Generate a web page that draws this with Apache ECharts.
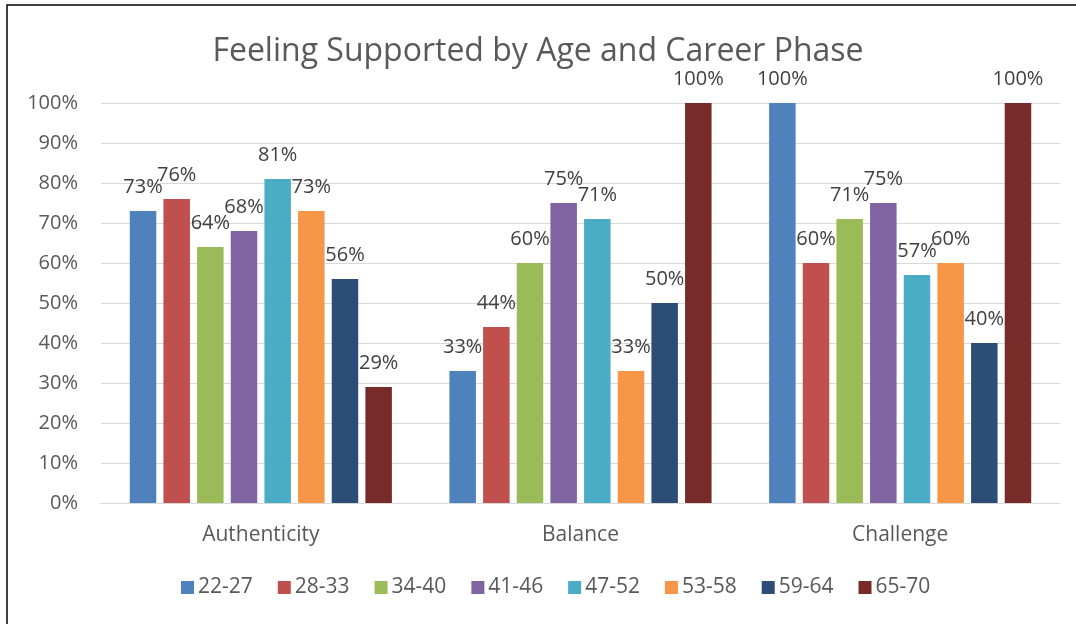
<!DOCTYPE html>
<html>
<head>
<meta charset="utf-8">
<script src="https://cdn.jsdelivr.net/npm/echarts@6/dist/echarts.min.js"></script>
<style>
  html, body { margin: 0; padding: 0; background: #fff; }
  #chart { width: 1076px; height: 624px; }
</style>
</head>
<body>
<div id="chart"></div>
<script>
// categories and age groups
const categories = ["Authenticity", "Balance", "Challenge"]
const ageGroups = ["22-27", "28-33", "34-40", "41-46", "47-52", "53-58", "59-64", "65-70"]

// percentage supported, one array per age group (Authenticity, Balance, Challenge)
const age22to27 = [73, 33, 100]
const age28to33 = [76, 44, 60]
const age34to40 = [64, 60, 71]
const age41to46 = [68, 75, 75]
const age47to52 = [81, 71, 57]
const age53to58 = [73, 33, 60]
const age59to64 = [56, 50, 40]
const age65to70 = [29, 100, 100]

const seriesValues = [age22to27, age28to33, age34to40, age41to46, age47to52, age53to58, age59to64, age65to70]
const colors = ["#4F81BD", "#C0504D", "#9BBB59", "#8064A2", "#4BACC6", "#F79646", "#2C4D75", "#772C2A"]

const font = "'Open Sans', sans-serif"

const chart = echarts.init(document.getElementById("chart"), null, { renderer: "canvas" })

chart.setOption({
    animation: false,
    color: colors,
    textStyle: { fontFamily: font },
    title: {
        text: "Feeling Supported by Age and Career Phase",
        left: "center",
        top: 31,
        textStyle: { fontFamily: font, fontSize: 32, fontWeight: "normal", color: "#595959" }
    },
    legend: {
        left: 176,
        top: 572,
        itemWidth: 13,
        itemHeight: 13,
        itemGap: 25,
        icon: "rect",
        textStyle: { fontFamily: font, fontSize: 21, color: "#595959", padding: [0, 0, 0, -1] },
        data: ageGroups
    },
    grid: { left: 101, right: 16, top: 103, bottom: 121 },
    xAxis: {
        type: "category",
        data: categories,
        axisLine: { lineStyle: { color: "#D9D9D9", width: 1 } },
        axisTick: { show: false },
        axisLabel: { fontFamily: font, fontSize: 21, color: "#595959", margin: 22 }
    },
    yAxis: {
        type: "value",
        min: 0,
        max: 100,
        interval: 10,
        axisLine: { show: false },
        axisTick: { show: false },
        splitLine: { lineStyle: { color: "#D9D9D9", width: 1 } },
        axisLabel: { fontFamily: font, fontSize: 20, color: "#595959", margin: 23, formatter: "{value}%" }
    },
    series: ageGroups.map((name, i) => ({
        name: name,
        type: "bar",
        data: seriesValues[i],
        barCategoryGap: "18%",
        barGap: "27%",
        label: {
            show: true,
            position: "top",
            distance: 14,
            formatter: "{c}%",
            fontFamily: font,
            fontSize: 20,
            color: "#404040"
        }
    })),
    graphic: [{
        type: "rect",
        shape: { x: 7, y: 5, width: 1100, height: 700 },
        style: { fill: "none", stroke: "#000", lineWidth: 1.5 },
        silent: true
    }]
})
</script>
</body>
</html>
